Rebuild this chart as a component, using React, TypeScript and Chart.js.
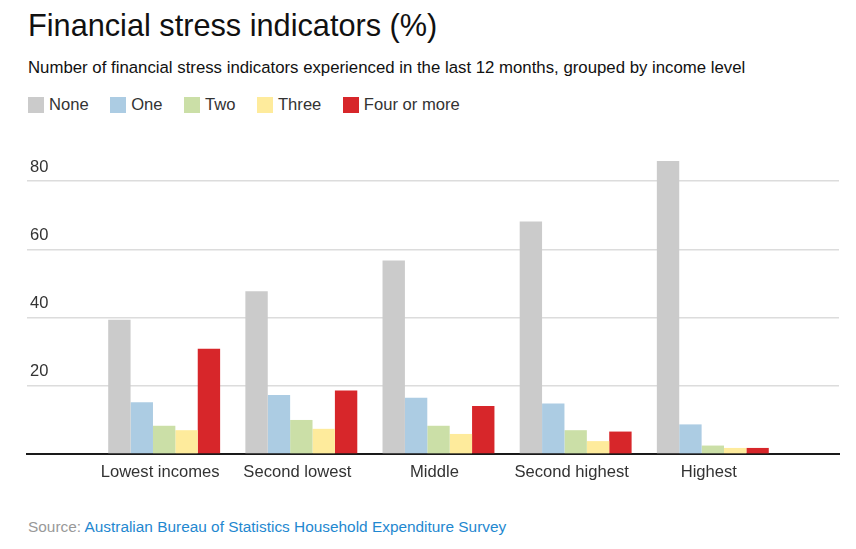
import React, { useEffect, useRef } from "react";
import { Chart, registerables } from "chart.js";

Chart.register(...registerables);

const categories = ["Lowest incomes", "Second lowest", "Middle", "Second highest", "Highest"];
const seriesNames = ["None", "One", "Two", "Three", "Four or more"];
const noneValues = [39.4, 47.7, 56.7, 68.2, 85.9];
const oneValues = [15.2, 17.3, 16.5, 14.8, 8.7];
const twoValues = [8.3, 10.0, 8.3, 7.0, 2.5];
const threeValues = [7.0, 7.4, 5.9, 3.8, 1.8];
const fourPlusValues = [30.9, 18.6, 14.1, 6.6, 1.8];
const seriesColors = ["#cbcbcb", "#acccE3", "#cbdfa7", "#feeb9c", "#d7262a"];
const yTicks = [0, 20, 40, 60, 80];

const FONT = '"Liberation Sans", Arial, Helvetica, sans-serif';

export default function App() {
  const canvasRef = useRef<HTMLCanvasElement | null>(null);

  useEffect(() => {
    document.body.style.margin = "0";
    const values = [noneValues, oneValues, twoValues, threeValues, fourPlusValues];
    const ctx = canvasRef.current;
    if (!ctx) return;
    const chart = new Chart(ctx, {
      type: "bar",
      data: {
        datasets: seriesNames.map((name, i) => ({
          label: name,
          data: categories.map((_, j) => ({ x: j, y: values[i][j] })),
          backgroundColor: seriesColors[i],
          borderWidth: 0,
          categoryPercentage: 0.816,
          barPercentage: 1,
        })),
      },
      options: {
        animation: false,
        responsive: true,
        maintainAspectRatio: false,
        layout: { padding: { left: 21, right: 17, top: 13, bottom: 10 } },
        plugins: {
          legend: { display: false },
          tooltip: { enabled: false },
          title: { display: false },
        },
        scales: {
          x: {
            type: "linear",
            min: -1,
            max: 4.92,
            offset: false,
            afterBuildTicks: (axis: any) => {
              axis.ticks = categories.map((_, i) => ({ value: i }));
            },
            grid: { display: false, drawTicks: false },
            border: { display: true, color: "#1a1a1a", width: 2 },
            ticks: {
              autoSkip: false,
              maxRotation: 0,
              padding: 8,
              labelOffset: -4,
              color: "#333333",
              font: { family: FONT, size: 16.6 },
              callback: (v: any) => categories[Number(v)] ?? "",
            },
          },
          y: {
            min: 0,
            max: 90,
            afterBuildTicks: (axis: any) => {
              axis.ticks = yTicks.map((v) => ({ value: v }));
            },
            grid: { color: "#dcdcdc", lineWidth: 1.5, drawTicks: false },
            border: { display: false },
            ticks: {
              mirror: true,
              padding: 3,
              labelOffset: -14,
              color: "#333333",
              font: { family: FONT, size: 16.5 },
              callback: (v: any) => (Number(v) === 0 ? "" : String(v)),
            },
          },
        },
      },
    });
    return () => chart.destroy();
  }, []);

  return (
    <div style={{ position: "relative", width: 856, height: 549, fontFamily: FONT, background: "#fff", overflow: "hidden" }}>
      <div style={{ position: "absolute", left: 28, top: 10, fontSize: 30.7, lineHeight: "31px", color: "#111", whiteSpace: "nowrap" }}>
        Financial stress indicators (%)
      </div>
      <div style={{ position: "absolute", left: 28, top: 60, fontSize: 16.8, lineHeight: "16.5px", color: "#111", whiteSpace: "nowrap" }}>
        Number of financial stress indicators experienced in the last 12 months, grouped by income level
      </div>
      <div style={{ position: "absolute", left: 28, top: 97, display: "flex", gap: 21.5, fontSize: 16.6, lineHeight: "16.5px", color: "#333", whiteSpace: "nowrap" }}>
        {seriesNames.map((name, i) => (
          <div key={name} style={{ display: "flex", alignItems: "flex-start", gap: 5 }}>
            <span style={{ display: "inline-block", width: 16, height: 16, background: seriesColors[i] }} />
            <span>{name}</span>
          </div>
        ))}
      </div>
      <div style={{ position: "absolute", left: 0, top: 134, width: 856, height: 366 }}>
        <canvas ref={canvasRef} />
      </div>
      <div style={{ position: "absolute", left: 28, top: 519, fontSize: 15.4, lineHeight: "15.5px", whiteSpace: "nowrap" }}>
        <span style={{ color: "#999" }}>Source: </span>
        <span style={{ color: "#1f88d0" }}>Australian Bureau of Statistics Household Expenditure Survey</span>
      </div>
    </div>
  );
}
